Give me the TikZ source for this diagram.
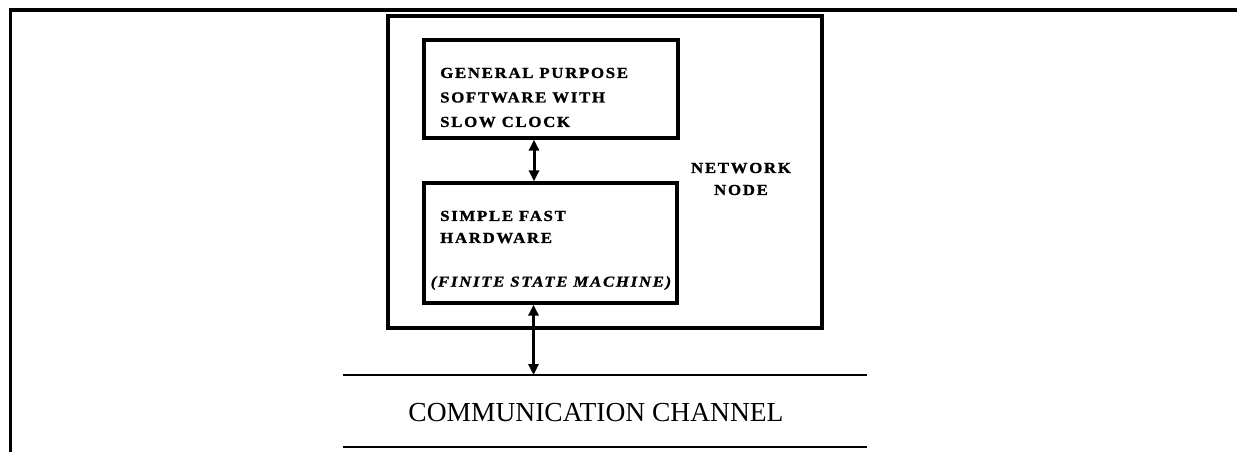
\documentclass[tikz,border=0pt]{standalone}
\usepackage{fontspec}
\setmainfont{Liberation Serif}
\newfontfamily\boxfont[FakeStretch=1.1,LetterSpace=11,FakeBold=1.2]{Liberation Serif}
\usetikzlibrary{arrows.meta}
\tikzset{
  frame/.style={line width=3.2pt},
  boxed/.style={draw, line width=3.2pt, minimum width=#1, inner sep=0pt},
  label txt/.style={font=\boxfont\bfseries\fontsize{15.3}{24.5}\selectfont, align=left, inner sep=0pt},
  chan/.style={line width=2.8pt},
  link/.style={line width=3pt, {Triangle[length=11pt,width=10pt]}-{Triangle[length=11pt,width=10pt]}}
}
\begin{document}
\begin{tikzpicture}[x=1pt,y=-1pt]
\useasboundingbox (0,0) rectangle (1237,452);
% outer frame (top and left edges)
\draw[frame] (10.5,452) -- (10.5,10) -- (1237,10);
% network node box
\node[boxed=434pt, minimum height=312pt] (nn) at (605,172) {};
% upper box
\node[boxed=254pt, minimum height=98pt] (sw) at (551,89) {};
\node[label txt, anchor=west] (swt) at (440,97.5) {GENERAL PURPOSE\\SOFTWARE WITH\\SLOW CLOCK};
% lower box
\node[boxed=253pt, minimum height=120pt] (hw) at (550.5,243) {};
\node[label txt, anchor=west, font=\boxfont\bfseries\fontsize{15.3}{22}\selectfont] (hwt) at (440,227) {SIMPLE FAST\\HARDWARE};
\node[label txt, font=\boxfont\bfseries\itshape\fontsize{15.3}{18}\selectfont] (fsm) at (551,283) {(FINITE STATE MACHINE)};
% network node label
\node[label txt, align=center, font=\boxfont\bfseries\fontsize{15.3}{22}\selectfont] (nnl) at (741,179) {NETWORK\\NODE};
% communication channel
\coordinate (cl1) at (343,375);
\coordinate (cr1) at (867,375);
\coordinate (cl2) at (343,447);
\coordinate (cr2) at (867,447);
\draw[chan] (cl1) -- (cr1);
\draw[chan] (cl2) -- (cr2);
\node[font=\fontsize{27.5}{30}\selectfont, inner sep=0pt] (cc) at (596,413) {COMMUNICATION CHANNEL};
% connectors
\coordinate (ch) at (533.5,375);
\draw[link] (sw.south -| 534,0) -- (hw.north -| 534,0);
\draw[link] (hw.south -| 533.5,0) -- (ch);
\end{tikzpicture}
\end{document}
